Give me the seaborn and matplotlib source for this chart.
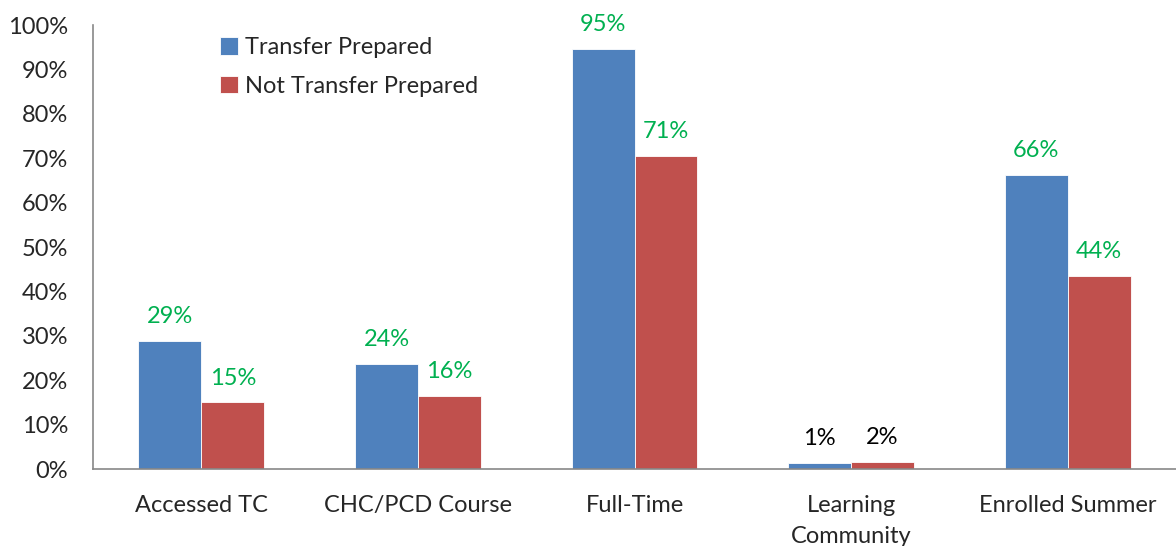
import pandas as pd
import numpy as np
import matplotlib.pyplot as plt
import seaborn as sns

# Chart values
categories = ['Accessed TC', 'CHC/PCD Course', 'Full-Time', 'Learning\nCommunity', 'Enrolled Summer']
series_names = ['Transfer Prepared', 'Not Transfer Prepared']
transfer_prepared = [0.288, 0.236, 0.946, 0.014, 0.663]
not_transfer_prepared = [0.150, 0.164, 0.706, 0.015, 0.435]
label_transfer = ['29%', '24%', '95%', '1%', '66%']
label_not_transfer = ['15%', '16%', '71%', '2%', '44%']
label_colors = ['#00B050', '#00B050', '#00B050', 'black', '#00B050']

df = pd.DataFrame({
    'category': categories * 2,
    'series': [series_names[0]] * 5 + [series_names[1]] * 5,
    'value': transfer_prepared + not_transfer_prepared,
})

sns.set_style('white')
plt.rcParams['font.family'] = ['Lato', 'DejaVu Sans']
fs = 17

fig = plt.figure(figsize=(11.76, 5.46), dpi=100)
ax = fig.add_axes([93 / 1176, 1 - 469 / 546, 1 - 93 / 1176, 444 / 546])

sns.barplot(data=df, x='category', y='value', hue='series', order=categories,
            hue_order=series_names, palette=['#4F81BD', '#C0504D'],
            width=0.58, gap=0, saturation=1, linewidth=0.6, edgecolor='white', ax=ax)

ax.set_ylim(0, 1)
ax.set_xlim(-0.5, len(categories) - 0.5)
ax.set_yticks(np.arange(0, 1.01, 0.1))
ax.set_yticklabels([f'{int(round(v * 100))}%' for v in np.arange(0, 1.01, 0.1)], fontsize=fs)
ax.set_xticks(range(len(categories)))
ax.set_xticklabels(categories, fontsize=fs, linespacing=1.55)
ax.tick_params(axis='x', length=0, pad=19)
ax.tick_params(axis='y', length=0, pad=18)
ax.set_xlabel('')
ax.set_ylabel('')

for side in ['top', 'right']:
    ax.spines[side].set_visible(False)
for side in ['left', 'bottom']:
    ax.spines[side].set_color('#888888')
    ax.spines[side].set_linewidth(1.2)

# value labels
for container, labels in zip(ax.containers, [label_transfer, label_not_transfer]):
    for bar, lab, col in zip(container, labels, label_colors):
        ax.annotate(lab, (bar.get_x() + bar.get_width() / 2, bar.get_height()),
                    xytext=(0, 10), textcoords='offset points',
                    ha='center', va='bottom', fontsize=fs, color=col)

ax.legend(loc='upper left', bbox_to_anchor=(0.098, 1.02), frameon=False, fontsize=fs,
          handlelength=0.75, handleheight=0.75, handletextpad=0.3, labelspacing=0.75)

fig.savefig('out.png', dpi=100)
